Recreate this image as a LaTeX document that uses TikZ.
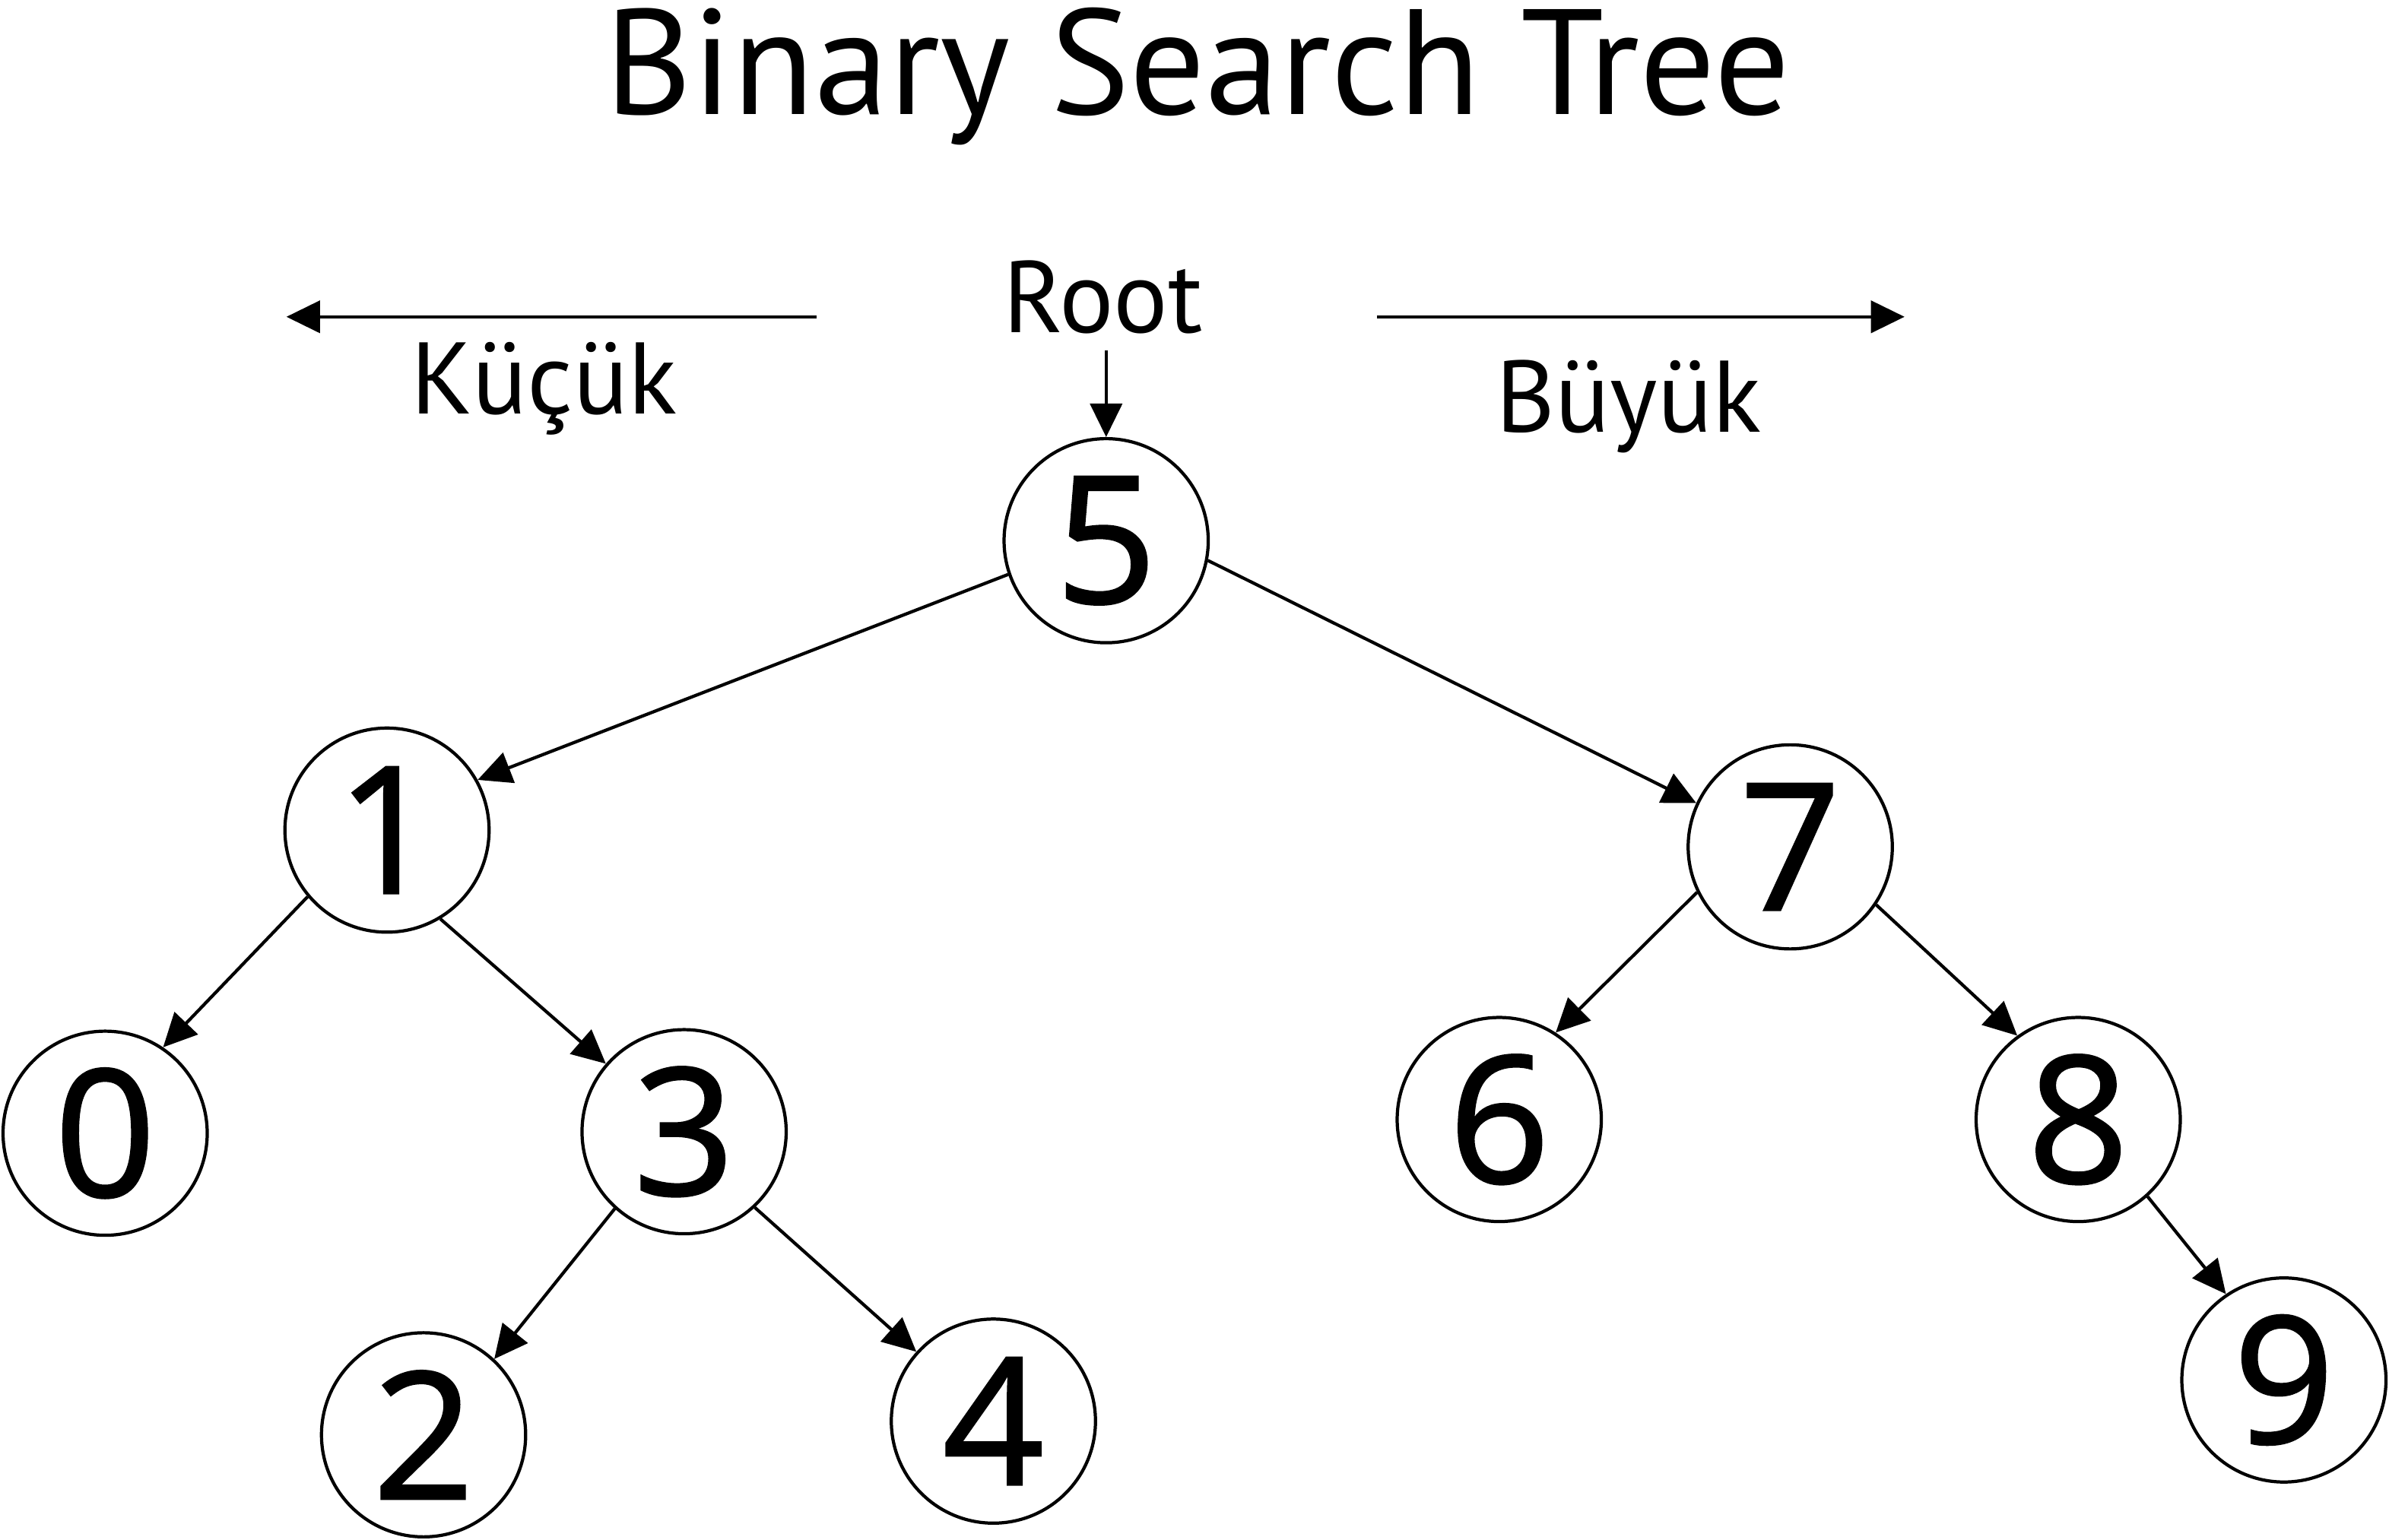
\documentclass[tikz,border=0pt]{standalone}
\usepackage{fontspec}
\setmainfont{PT Sans}
\newfontfamily\keyfont[FakeBold=1.3]{Open Sans}
\usepackage{tikz}
\usetikzlibrary{arrows.meta}
\def\key#1{\keyfont\fontsize{33}{36}\selectfont #1}

\begin{document}
\begin{tikzpicture}[>={Triangle[length=2.2mm,width=2.1mm]}, line width=0.6pt]
    \tikzstyle{every node}=[inner sep=0pt]
    \tikzstyle{keynode}=[circle,draw,minimum size=1.34cm]
    \tikzstyle{label}=[font=\fontsize{19}{22}\selectfont]
    \useasboundingbox (0,0) rectangle (15.68,-10.11);
    \node (title) at (7.86,-0.50) {\fontsize{28}{32}\selectfont Binary Search Tree};
    \node[label] (root) at (7.24,-1.95) {Root};
    \node[label] (small) at (3.57,-2.55) {Küçük};
    \node[label] (big) at (10.69,-2.67) {Büyük};
    \coordinate (rootend) at (7.26,-2.30);
    \coordinate (leftstart) at (5.36,-2.08);
    \coordinate (leftend) at (1.88,-2.08);
    \coordinate (rightstart) at (9.04,-2.08);
    \coordinate (rightend) at (12.50,-2.08);
    % keys
    \node[keynode] (k5) at (7.26,-3.55) {\key{5}};
    \node[keynode] (k1) at (2.54,-5.45) {\key{1}};
    \node[keynode] (k7) at (11.75,-5.56) {\key{7}};
    \node[keynode] (k0) at (0.69,-7.44) {\key{0}};
    \node[keynode] (k3) at (4.49,-7.43) {\key{3}};
    \node[keynode] (k6) at (9.84,-7.35) {\key{6}};
    \node[keynode] (k8) at (13.64,-7.35) {\key{8}};
    \node[keynode] (k2) at (2.78,-9.42) {\key{2}};
    \node[keynode] (k4) at (6.52,-9.33) {\key{4}};
    \node[keynode] (k9) at (14.99,-9.06) {\key{9}};
    % arrows
    \draw[->] (rootend) -- (k5.north);
    \draw[->] (leftstart) -- (leftend);
    \draw[->] (rightstart) -- (rightend);
    \draw[->] (k5.199) -- (k1.29);
    \draw[->] (k5.-11) -- (k7.155);
    \draw[->] (k1.220) -- (k0.56);
    \draw[->] (k1.-59) -- (k3.139);
    \draw[->] (k3.228) -- (k2.47);
    \draw[->] (k3.-47) -- (k4.138);
    \draw[->] (k7.206) -- (k6.57);
    \draw[->] (k7.-34) -- (k8.126);
    \draw[->] (k8.-48) -- (k9.124);
\end{tikzpicture}
\end{document}
